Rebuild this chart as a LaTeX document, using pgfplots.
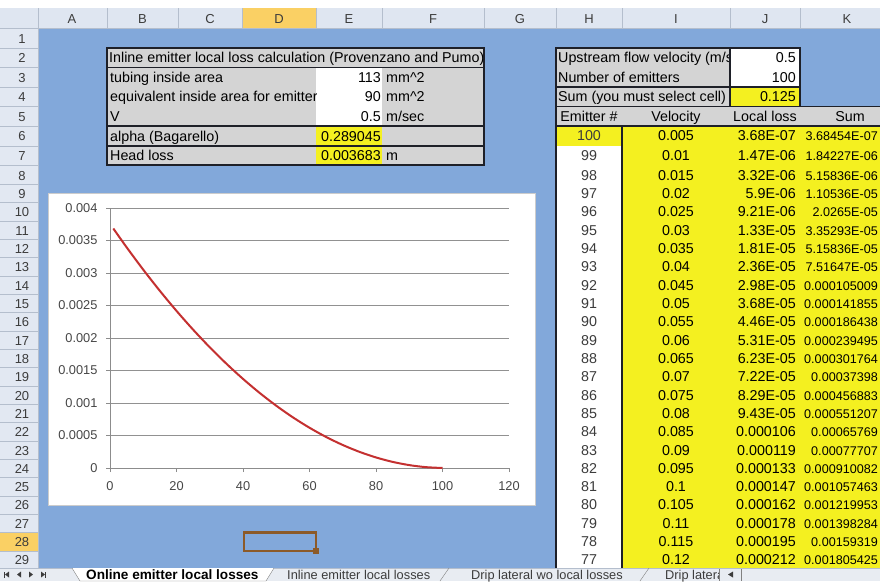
\documentclass[border=0pt]{standalone}
\usepackage{fontspec}
\setmainfont{Liberation Sans}
\usepackage{pgfplots}
\pgfplotsset{compat=1.18}
\definecolor{sheetblue}{RGB}{130,168,218}
\definecolor{hdr}{RGB}{223,230,241}
\definecolor{hdrline}{RGB}{180,190,205}
\definecolor{rowhdr}{RGB}{226,232,242}
\definecolor{hilite}{RGB}{250,208,100}
\definecolor{cellgray}{RGB}{212,212,212}
\definecolor{yel}{RGB}{244,240,32}
\definecolor{bord}{RGB}{30,32,40}
\definecolor{dark}{RGB}{60,60,60}
\definecolor{axgray}{RGB}{140,140,140}
\definecolor{grgray}{RGB}{145,145,145}
\definecolor{labgray}{RGB}{70,70,70}
\definecolor{curvered}{RGB}{196,48,48}
\definecolor{selbrown}{RGB}{140,90,40}
\definecolor{tabbg}{RGB}{232,236,242}
\newcommand\cf{\fontsize{14.3}{16}\selectfont}
\newcommand\sumf{\fontsize{12.6}{14}\selectfont}
\newcommand\hf{\fontsize{13}{15}\selectfont}
\newcommand\tf{\fontsize{12.8}{14}\selectfont}
\newcommand\tbf{\fontsize{13.6}{14}\selectfont}
\newcommand\tickf{\fontsize{12.8}{14}\selectfont}
\begin{document}
\begin{tikzpicture}
\begin{scope}[x=1pt,y=-1pt]
\useasboundingbox (0,0) rectangle (880,581);
\fill[white] (0,0) rectangle (880,581);
% sheet background
\fill[sheetblue] (38,28.2) rectangle (880,569);
% column header band
\fill[hdr] (0,8) rectangle (880,28.2);
\fill[hilite] (242,8) rectangle (316,28.2);
\foreach \x in {38,107,178,242,316,382,484,556,622,730,800}
  \draw[hdrline] (\x,8) -- (\x,28.2);
\draw[hdrline] (0,28.2) -- (880,28.2);
\foreach \l/\x in {A/72,B/142.5,C/210,D/279,E/349,F/433,G/520,H/589,I/676,J/765,K/847}
  \node[font=\hf, text=dark, anchor=base] at (\x,23) {\l};
% row header column
\fill[rowhdr] (0,28.2) rectangle (38,569);
\fill[hilite] (0,532.5) rectangle (38,550.8);
\foreach \r/\c/\t in {1/38.0/28.2,2/57.6/47.8,3/77.1/67.4,4/96.7/86.9,5/116.3/106.5,6/135.9/126.1,7/155.4/145.7,8/175.0/165.2,9/193.3/184.2,10/211.7/202.5,11/230.0/220.8,12/248.3/239.2,13/266.7/257.5,14/285.0/275.8,15/303.3/294.2,16/321.6/312.5,17/340.0/330.8,18/358.3/349.2,19/376.6/367.5,20/395.0/385.8,21/413.3/404.2,22/431.6/422.5,23/450.0/440.8,24/468.3/459.2,25/486.6/477.5,26/504.9/495.8,27/523.3/514.1,28/541.6/532.5,29/559.9/550.8}{
  \draw[hdrline] (0,\t) -- (38,\t);
  \node[font=\hf, text=dark, anchor=base] at (22,\c+5) {\r};
}
\draw[hdrline] (38,8) -- (38,569);
% ---------- left table ----------
\fill[cellgray] (107,47.8) rectangle (484,165.2);
\fill[white] (316,67.4) rectangle (382,126.1);
\fill[yel] (316,126.1) rectangle (382,165.2);
\begin{scope}
\clip (107,47.8) rectangle (484,67.4);
\node[font=\cf, anchor=base west, inner sep=0pt] at (109,62.8) {Inline emitter local loss calculation (Provenzano and Pumo)};
\end{scope}
\node[font=\cf, anchor=base west, inner sep=0pt] at (110,82.3) {tubing inside area};
\begin{scope}
\clip (107,86.9) rectangle (316,106.5);
\node[font=\cf, anchor=base west, inner sep=0pt] at (110,101.9) {equivalent inside area for emitter};
\end{scope}
\node[font=\cf, anchor=base west, inner sep=0pt] at (110,121.5) {V};
\node[font=\cf, anchor=base west, inner sep=0pt] at (110,141.1) {alpha (Bagarello)};
\node[font=\cf, anchor=base west, inner sep=0pt] at (110,160.6) {Head loss};
\foreach \v/\c in {113/82.3,90/101.9,0.5/121.5,0.289045/141.1,0.003683/160.6}
  \node[font=\cf, anchor=base east, inner sep=0pt] at (381,\c) {\v};
\node[font=\cf, anchor=base west, inner sep=0pt] at (386,82.3) {mm\textasciicircum 2};
\node[font=\cf, anchor=base west, inner sep=0pt] at (386,101.9) {mm\textasciicircum 2};
\node[font=\cf, anchor=base west, inner sep=0pt] at (386,121.5) {m/sec};
\node[font=\cf, anchor=base west, inner sep=0pt] at (386,160.6) {m};
\draw[bord, line width=1.6pt] (107,47.8) rectangle (484,165.2);
\draw[bord, line width=1.6pt] (107,67.4) -- (484,67.4);
\draw[bord, line width=1.6pt] (107,126.1) -- (484,126.1);
\draw[bord, line width=1.6pt] (107,145.7) -- (484,145.7);
% ---------- right table ----------
\fill[cellgray] (556,47.8) rectangle (730,106.5);
\fill[white] (730,47.8) rectangle (800,86.9);
\fill[yel] (730,86.9) rectangle (800,106.5);
\begin{scope}
\clip (556,47.8) rectangle (729,67.4);
\node[font=\cf, anchor=base west, inner sep=0pt] at (558,62.8) {Upstream flow velocity (m/s)};
\end{scope}
\node[font=\cf, anchor=base west, inner sep=0pt] at (558,82.3) {Number of emitters};
\node[font=\cf, anchor=base west, inner sep=0pt] at (558,101.9) {Sum (you must select cell)};
\node[font=\cf, anchor=base east, inner sep=0pt] at (796,62.8) {0.5};
\node[font=\cf, anchor=base east, inner sep=0pt] at (796,82.3) {100};
\node[font=\cf, anchor=base east, inner sep=0pt] at (796,101.9) {0.125};
% header row 5
\fill[cellgray] (556,106.5) rectangle (880,126.1);
\node[font=\cf, anchor=base, inner sep=0pt] at (589,121.5) {Emitter \#};
\node[font=\cf, anchor=base, inner sep=0pt] at (676,121.5) {Velocity};
\node[font=\cf, anchor=base, inner sep=0pt] at (765,121.5) {Local loss};
\node[font=\cf, anchor=base, inner sep=0pt] at (850,121.5) {Sum};
% data area
\fill[white] (556,126.1) rectangle (622,569);
\fill[yel] (556,126.1) rectangle (622,145.7);
\fill[yel] (622,126.1) rectangle (880,569);
\foreach \e/\c/\v/\l/\s in {
100/135.9/0.005/3.68E-07/3.68454E-07,
99/155.4/0.01/1.47E-06/1.84227E-06,
98/175.0/0.015/3.32E-06/5.15836E-06,
97/193.3/0.02/5.9E-06/1.10536E-05,
96/211.7/0.025/9.21E-06/2.0265E-05,
95/230.0/0.03/1.33E-05/3.35293E-05,
94/248.3/0.035/1.81E-05/5.15836E-05,
93/266.7/0.04/2.36E-05/7.51647E-05,
92/285.0/0.045/2.98E-05/0.000105009,
91/303.3/0.05/3.68E-05/0.000141855,
90/321.6/0.055/4.46E-05/0.000186438,
89/340.0/0.06/5.31E-05/0.000239495,
88/358.3/0.065/6.23E-05/0.000301764,
87/376.6/0.07/7.22E-05/0.00037398,
86/395.0/0.075/8.29E-05/0.000456883,
85/413.3/0.08/9.43E-05/0.000551207,
84/431.6/0.085/0.000106/0.00065769,
83/450.0/0.09/0.000119/0.00077707,
82/468.3/0.095/0.000133/0.000910082,
81/486.6/0.1/0.000147/0.001057463,
80/504.9/0.105/0.000162/0.001219953,
79/523.3/0.11/0.000178/0.001398284,
78/541.6/0.115/0.000195/0.00159319,
77/559.9/0.12/0.000212/0.001805425}{
  \node[font=\cf, text=dark, anchor=base, inner sep=0pt] at (589,\c+5) {\e};
  \node[font=\cf, anchor=base, inner sep=0pt] at (676,\c+5) {\v};
  \node[font=\cf, anchor=base east, inner sep=0pt] at (796,\c+5) {\l};
  \node[font=\sumf, anchor=base east, inner sep=0pt] at (878,\c+5) {\s};
}
\draw[bord, line width=1.6pt] (556,47.8) rectangle (800,106.5);
\draw[bord, line width=1.6pt] (556,86.9) -- (800,86.9);
\draw[bord, line width=1.6pt] (730,47.8) -- (730,106.5);
\draw[bord, line width=1.6pt] (556,106.5) -- (880,106.5);
\draw[bord, line width=1.6pt] (556,126.1) -- (880,126.1);
\draw[bord, line width=1.6pt] (556,47.8) -- (556,569);
\draw[bord, line width=1.6pt] (622,126.1) -- (622,569);
% selected cell
\draw[selbrown, line width=2.5pt] (244,532.5) rectangle (316,550.8);
\fill[selbrown] (313,548) rectangle (319,554);
% chart area
\fill[white] (48,193) rectangle (535,505);
\draw[gray!40] (48,193) rectangle (535,505);
% tab bar
\fill[tabbg] (0,568) rectangle (880,581);
\draw[hdrline] (0,568) -- (880,568);
\fill[white] (72,568) -- (80,581) -- (266,581) -- (274,568) -- cycle;
\draw[gray] (72,568) -- (80,581) -- (266,581) -- (274,568);
\fill[dark] (5,574.5) -- (9,571.5) -- (9,577.5) -- cycle; \fill[dark] (4,571.5) rectangle (5,577.5);
\fill[dark] (17,574.5) -- (21,571.5) -- (21,577.5) -- cycle;
\fill[dark] (33,574.5) -- (29,571.5) -- (29,577.5) -- cycle;
\fill[dark] (45,574.5) -- (41,571.5) -- (41,577.5) -- cycle; \fill[dark] (45,571.5) rectangle (46,577.5);
\node[font=\bfseries\tbf, anchor=base west, inner sep=0pt] at (86,579) {Online emitter local losses};
\node[font=\tf, text=dark, anchor=base west, inner sep=0pt] at (287,579) {Inline emitter local losses};
\draw[gray] (440,581) -- (449,568);
\node[font=\tf, text=dark, anchor=base west, inner sep=0pt] at (471,579) {Drip lateral  wo local losses};
\draw[gray] (640,581) -- (649,568);
\begin{scope}
\clip (655,568) rectangle (719,581);
\node[font=\tf, text=dark, anchor=base west, inner sep=0pt] at (665,579) {Drip lateral};
\end{scope}
\draw[gray] (719,569) -- (719,581);
\fill[dark] (728,574.5) -- (733,571.5) -- (733,577.5) -- cycle;
\draw[gray] (741,569) -- (741,581);
\end{scope}
\begin{axis}[
 at={(110pt,-468pt)}, anchor=south west,
 scale only axis, width=399pt, height=260pt,
 xmin=0, xmax=120, ymin=0, ymax=0.004,
 axis x line=bottom, axis y line=left,
 axis line style={-, draw=axgray, line width=0.9pt},
 xtick={0,20,40,60,80,100,120},
 xticklabels={0,20,40,60,80,100,120},
 ytick={0,0.0005,0.001,0.0015,0.002,0.0025,0.003,0.0035,0.004},
 yticklabels={0,0.0005,0.001,0.0015,0.002,0.0025,0.003,0.0035,0.004},
 scaled y ticks=false,
 ymajorgrids, grid style={draw=grgray, line width=0.9pt},
 tick align=outside, major tick length=4pt,
 tick style={draw=axgray, line width=0.9pt},
 ticklabel style={font=\tickf, text=labgray},
 xticklabel style={yshift=-6pt},
 yticklabel style={xshift=-5pt},
 /pgf/number format/assume math mode=true,
 clip=false,
]
\addplot[draw=curvered, line width=2pt, smooth, no markers] coordinates {
(1,0.0036845) (5,0.0033956) (10,0.0030511) (15,0.0027251) (20,0.0024174)
(25,0.0021282) (30,0.0018574) (35,0.0016050) (40,0.0013710) (45,0.0011555)
(50,0.00095834) (55,0.00077964) (60,0.00061936) (65,0.00047751) (70,0.00035408)
(75,0.00024907) (80,0.00016249) (85,0.00009432) (90,0.00004458) (95,0.00001326)
(100,0.000000368)};
\end{axis}
\end{tikzpicture}
\end{document}
